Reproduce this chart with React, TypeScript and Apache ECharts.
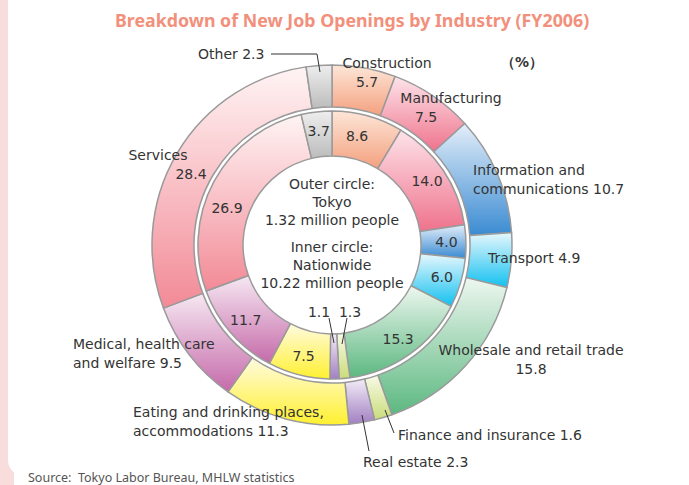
import React, { useEffect, useRef } from 'react';
import * as echarts from 'echarts';

// ---- Data ----
const categories = [
  'Construction',
  'Manufacturing',
  'Information and communications',
  'Transport',
  'Wholesale and retail trade',
  'Finance and insurance',
  'Real estate',
  'Eating and drinking places, accommodations',
  'Medical, health care and welfare',
  'Services',
  'Other',
];
// Outer circle: Tokyo (%)
const tokyoValues = [5.7, 7.5, 10.7, 4.9, 15.8, 1.6, 2.3, 11.3, 9.5, 28.4, 2.3];
// Inner circle: Nationwide (%)
const nationwideValues = [8.6, 14.0, 4.0, 6.0, 15.3, 1.3, 1.1, 7.5, 11.7, 26.9, 3.7];
// Label text as printed (with line breaks)
const labelNames = [
  'Construction',
  'Manufacturing',
  'Information and\ncommunications',
  'Transport',
  'Wholesale and retail trade',
  'Finance and insurance',
  'Real estate',
  'Eating and drinking places,\naccommodations',
  'Medical, health care\nand welfare',
  'Services',
  'Other',
];
const titleText = 'Breakdown of New Job Openings by Industry (FY2006)';
const sourceText = 'Source:  Tokyo Labor Bureau, MHLW statistics';
const outerCaption = 'Outer circle:\nTokyo\n1.32 million people';
const innerCaption = 'Inner circle:\nNationwide\n10.22 million people';
const unitText = '（%）';

// ---- Styles ----
const palette: [string, string][] = [
  ['#fde6d8', '#f4a07e'],
  ['#fde4ea', '#ef728c'],
  ['#e4eef9', '#3a8bd2'],
  ['#e6f7fd', '#12c0f0'],
  ['#eef7f0', '#5cb880'],
  ['#f8fae6', '#c9dc7a'],
  ['#f2ecf6', '#a27fc2'],
  ['#fffbe0', '#fff030'],
  ['#f6e8f2', '#c56aa9'],
  ['#fff4f4', '#f28a96'],
  ['#eeeeee', '#bcbcbc'],
];

const FONT = 'DejaVu Sans';
const TEXT = '#333333';
const CENTER: [number, number] = [332, 245];

// Outer label layout (position of each label block)
const OUTER_LAYOUT: { x: number; y: number; align: string; valueBreak?: boolean; shift?: number }[] = [
  { x: 387, y: 72, align: 'center', valueBreak: true, shift: -20 },
  { x: 451, y: 107, align: 'center', valueBreak: true, shift: -25 },
  { x: 473, y: 179, align: 'left' },
  { x: 488, y: 258, align: 'left' },
  { x: 531, y: 359, align: 'center', valueBreak: true, shift: 0 },
  { x: 398, y: 435, align: 'left' },
  { x: 363, y: 462, align: 'left' },
  { x: 133, y: 421, align: 'left' },
  { x: 73, y: 353, align: 'left' },
  { x: 158, y: 164, align: 'center', valueBreak: true, shift: 33 },
  { x: 198, y: 54, align: 'left' },
];
// Inner labels that are moved away from the default inside position
const INNER_OVERRIDE: Record<number, [number, number]> = {
  0: [357, 136],
  5: [350, 312],
  6: [319, 312],
  9: [227, 208],
};
const LEADERS: number[][][] = [
  [[271, 54], [317, 54], [320, 72]],
  [[329, 318], [334, 343]],
  [[347, 318], [342, 344]],
  [[362, 415], [369, 451]],
  [[385, 410], [394, 433]],
];

function grad(i: number) {
  return {
    type: 'linear',
    x: 0,
    y: 0,
    x2: 0,
    y2: 1,
    colorStops: [
      { offset: 0, color: palette[i][0] },
      { offset: 1, color: palette[i][1] },
    ],
  };
}

function buildOption() {
  const rich: Record<string, any> = {
    n: { fontFamily: FONT, fontSize: 14, color: TEXT, lineHeight: 19 },
  };
  OUTER_LAYOUT.forEach((L, i) => {
    const s = L.shift || 0;
    rich['v' + i] = {
      fontFamily: FONT,
      fontSize: 14,
      color: TEXT,
      lineHeight: 19,
      padding: s < 0 ? [0, -2 * s, 0, 0] : [0, 0, 0, 2 * s],
    };
  });

  const outerData = categories.map((c, i) => ({
    name: c,
    value: tokyoValues[i],
    itemStyle: { color: grad(i) },
  }));
  const innerData = categories.map((c, i) => ({
    name: c,
    value: nationwideValues[i],
    itemStyle: { color: grad(i) },
  }));

  const graphics: any[] = [
    { type: 'rect', z: -10, silent: true, shape: { x: 0, y: 0, width: 14, height: 485 }, style: { fill: '#f9dcdc' } },
    { type: 'rect', z: -9, silent: true, shape: { x: 8, y: -20, width: 700, height: 496, r: [0, 0, 0, 16] }, style: { fill: '#ffffff' } },
    {
      type: 'text', silent: true,
      style: { text: outerCaption, x: CENTER[0], y: 201.5, align: 'center', verticalAlign: 'middle', fontFamily: FONT, fontSize: 14, lineHeight: 18, fill: TEXT },
    },
    {
      type: 'text', silent: true,
      style: { text: innerCaption, x: CENTER[0], y: 265, align: 'center', verticalAlign: 'middle', fontFamily: FONT, fontSize: 14, lineHeight: 18, fill: TEXT },
    },
    {
      type: 'text', silent: true,
      style: { text: unitText, x: 501, y: 62, align: 'left', verticalAlign: 'middle', fontFamily: FONT, fontSize: 14, fontWeight: 'bold', fill: TEXT },
    },
    {
      type: 'text', silent: true,
      style: { text: sourceText, x: 28, y: 477, align: 'left', verticalAlign: 'middle', fontFamily: 'Noto Sans', fontSize: 12.5, fill: '#555555' },
    },
    ...LEADERS.map((pts) => ({
      type: 'polyline', silent: true, z: 10,
      shape: { points: pts },
      style: { stroke: '#333333', lineWidth: 1, fill: null },
    })),
  ];

  return {
    animation: false,
    backgroundColor: 'transparent',
    title: [
      {
        text: titleText,
        left: 110,
        top: 6,
        textStyle: { fontFamily: 'Noto Sans', fontSize: 17.8, fontWeight: 'bold', color: '#f2907c' },
      },
    ],
    graphic: graphics,
    series: [
      {
        type: 'pie',
        name: 'Nationwide',
        silent: true,
        center: CENTER,
        radius: [89, 134],
        startAngle: 90,
        clockwise: true,
        avoidLabelOverlap: false,
        itemStyle: { borderColor: '#9a9a9a', borderWidth: 1.5 },
        label: {
          show: true,
          position: 'inside',
          fontFamily: FONT,
          fontSize: 14,
          color: TEXT,
          formatter: (p: any) => nationwideValues[p.dataIndex].toFixed(1),
        },
        labelLine: { show: false },
        labelLayout: (p: any) => {
          const o = INNER_OVERRIDE[p.dataIndex];
          if (!o) return {};
          return { x: o[0], y: o[1], align: 'center', verticalAlign: 'middle' };
        },
        data: innerData,
      },
      {
        type: 'pie',
        name: 'Tokyo',
        silent: true,
        center: CENTER,
        radius: [138, 180],
        startAngle: 90,
        clockwise: true,
        avoidLabelOverlap: false,
        itemStyle: { borderColor: '#9a9a9a', borderWidth: 1.5 },
        label: {
          show: true,
          position: 'inside',
          fontFamily: FONT,
          fontSize: 14,
          lineHeight: 19,
          color: TEXT,
          rich,
          formatter: (p: any) => {
            const i = p.dataIndex;
            const v = tokyoValues[i].toFixed(1);
            if (OUTER_LAYOUT[i].valueBreak) {
              return `{n|${labelNames[i]}}\n{v${i}|${v}}`;
            }
            return `${labelNames[i]} ${v}`;
          },
        },
        labelLine: { show: false },
        labelLayout: (p: any) => {
          const L = OUTER_LAYOUT[p.dataIndex];
          return { x: L.x, y: L.y, align: L.align, verticalAlign: 'middle' };
        },
        data: outerData,
      },
    ],
  };
}

export default function App() {
  const ref = useRef<HTMLDivElement>(null);
  useEffect(() => {
    document.body.style.margin = '0';
    const chart = echarts.init(ref.current as HTMLDivElement, null, { renderer: 'svg' });
    chart.setOption(buildOption() as any);
    return () => chart.dispose();
  }, []);
  return <div ref={ref} style={{ width: 689, height: 485 }} />;
}
